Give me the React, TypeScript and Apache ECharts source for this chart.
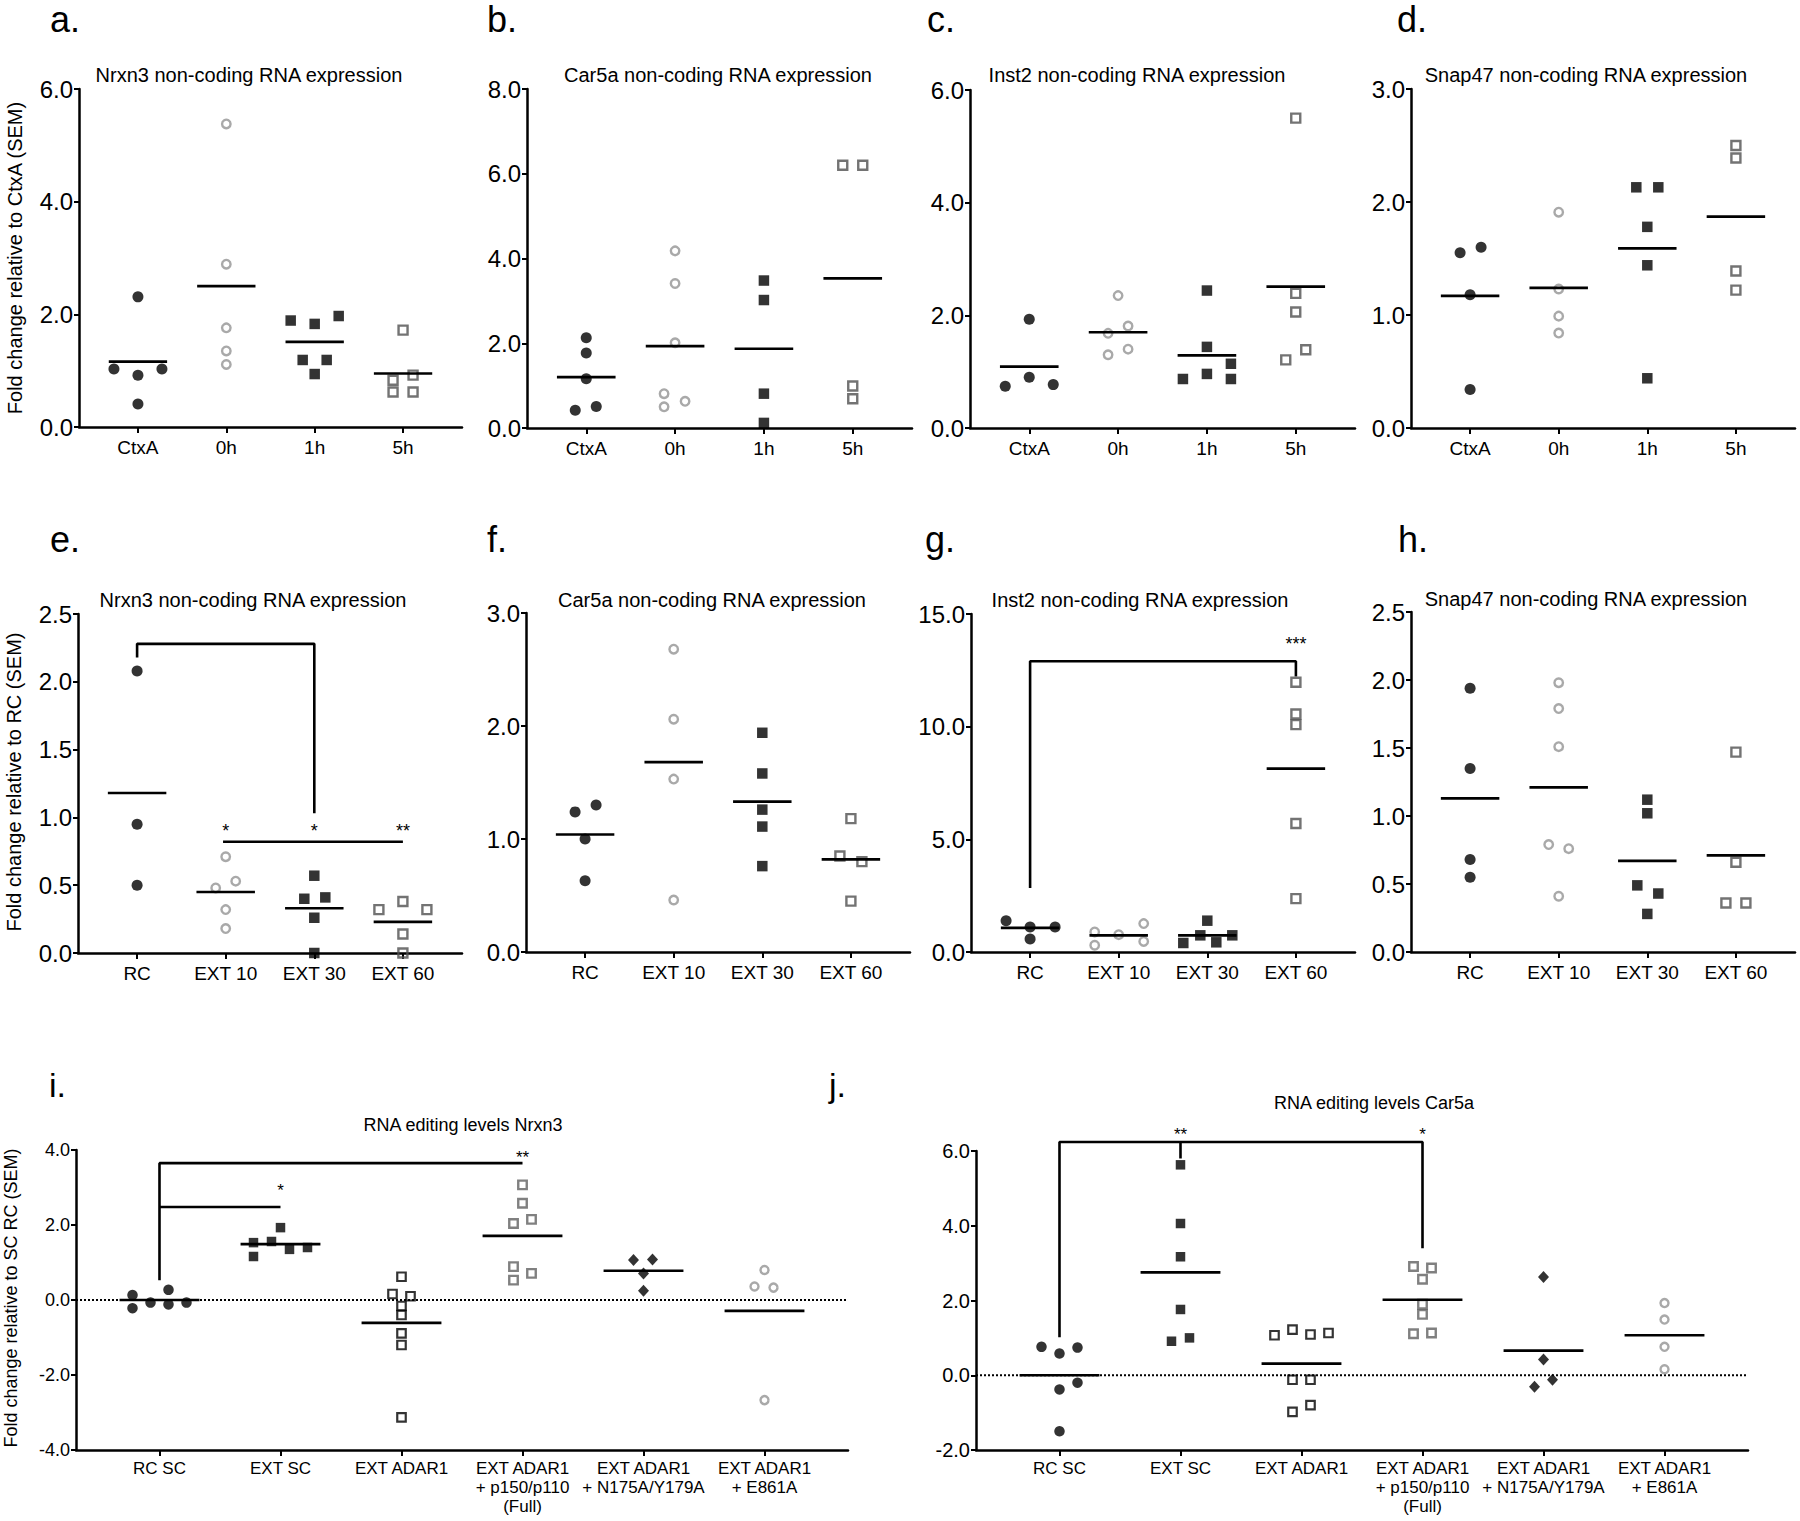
import React, { useEffect, useRef } from "react";
import * as echarts from "echarts";

const FONT = "'Liberation Sans', Arial, Helvetica, sans-serif";

// ---------- categories ----------
const catsTime = ["CtxA", "0h", "1h", "5h"];
const catsExt = ["RC", "EXT 10", "EXT 30", "EXT 60"];
const catsEdit = [
  "RC SC",
  "EXT SC",
  "EXT ADAR1",
  "EXT ADAR1\n+ p150/p110\n(Full)",
  "EXT ADAR1\n+ N175A/Y179A",
  "EXT ADAR1\n+ E861A",
];

// ---------- panel a: Nrxn3 (CtxA) ----------
const aValues = [
  [2.31, 1.03, 0.92, 1.03, 0.41],
  [5.38, 2.89, 1.76, 1.35, 1.11],
  [1.89, 1.83, 1.97, 1.19, 1.19, 0.94],
  [1.72, 0.92, 0.83, 0.62, 0.62],
];
const aMeans = [1.16, 2.5, 1.51, 0.95];
const aSpread = [[0, -24, 0, 24, 0], [0, 0, 0, 0, 0], [-24, 0, 24, -12, 12, 0], [0, 10, -10, -10, 10]];

// ---------- panel b: Car5a (CtxA) ----------
const bValues = [
  [2.13, 1.77, 1.16, 0.42, 0.51],
  [4.18, 3.41, 2.01, 0.81, 0.5, 0.63],
  [3.48, 3.02, 0.81, 0.12],
  [6.2, 6.2, 0.99, 0.69],
];
const bMeans = [1.2, 1.93, 1.87, 3.53];
const bSpread = [[0, 0, 0, -11, 10], [0, 0, 0, -11, -11, 10], [0, 0, 0, 0], [-10, 10, 0, 0]];

// ---------- panel c: Inst2 (CtxA) ----------
const cValues = [
  [1.93, 0.74, 0.9, 0.77],
  [2.35, 1.68, 1.81, 1.4, 1.3],
  [2.44, 1.44, 1.14, 0.87, 0.96, 0.87],
  [5.5, 2.39, 2.06, 1.39, 1.21],
];
const cMeans = [1.09, 1.7, 1.29, 2.51];
const cSpread = [[0, -24, 0, 24], [0, -10, 10, 10, -10], [0, 0, 24, -24, 0, 24], [0, 0, 0, 10, -10]];

// ---------- panel d: Snap47 (CtxA) ----------
const dValues = [
  [1.55, 1.6, 1.18, 0.34],
  [1.91, 1.23, 0.99, 0.84],
  [2.13, 2.13, 1.78, 1.44, 0.44],
  [2.5, 2.39, 1.39, 1.22],
];
const dMeans = [1.17, 1.24, 1.59, 1.87];
const dSpread = [[-10, 11, 0, 0], [0, 0, 0, 0], [-11, 11, 0, 0, 0], [0, 0, 0, 0]];

// ---------- panel e: Nrxn3 (RC) ----------
const eValues = [
  [2.08, 0.95, 0.5],
  [0.71, 0.48, 0.53, 0.32, 0.18],
  [0.57, 0.4, 0.41, 0.26, 0.0],
  [0.32, 0.38, 0.32, 0.14, 0.0],
];
const eMeans = [1.18, 0.45, 0.33, 0.23];
const eSpread = [[0, 0, 0], [0, -10, 10, 0, 0], [0, -10, 11, 0, 0], [-24, 0, 24, 0, 0]];
const eBrackets = [
  [[0, 2.18], [0, 2.28], [2, 2.28], [2, 1.03]],
  [[0.97, 0.82], [3, 0.82]],
];
const eStars: [number, number, string][] = [[1, 0.93, "*"], [2, 0.93, "*"], [3, 0.93, "**"]];

// ---------- panel f: Car5a (RC) ----------
const fValues = [
  [1.24, 1.3, 1.0, 0.63],
  [2.68, 2.06, 1.53, 0.46],
  [1.94, 1.58, 1.26, 1.11, 0.76],
  [1.18, 0.85, 0.8, 0.45],
];
const fMeans = [1.04, 1.68, 1.33, 0.82];
const fSpread = [[-10, 11, 0, 0], [0, 0, 0, 0], [0, 0, 0, 0, 0], [0, -11, 11, 0]];

// ---------- panel g: Inst2 (RC) ----------
const gValues = [
  [1.39, 1.11, 1.11, 0.58],
  [0.89, 0.77, 1.26, 0.3, 0.47],
  [1.39, 0.74, 0.74, 0.4, 0.43],
  [11.97, 10.56, 10.09, 5.7, 2.37],
];
const gMeans = [1.07, 0.74, 0.74, 8.14];
const gSpread = [[-24, 0, 25, 0], [-24, 0, 25, -24, 25], [0, -7, 25, -24, 9], [0, 0, 0, 0, 0]];
const gBrackets = [[[0, 2.84], [0, 12.9], [3, 12.9], [3, 12.23]]];
const gStars: [number, number, string][] = [[3, 13.83, "***"]];

// ---------- panel h: Snap47 (RC) ----------
const hValues = [
  [1.94, 1.35, 0.68, 0.55],
  [1.98, 1.79, 1.51, 0.79, 0.76, 0.41],
  [1.12, 1.02, 0.49, 0.43, 0.28],
  [1.47, 0.66, 0.36, 0.36],
];
const hMeans = [1.13, 1.21, 0.67, 0.71];
const hSpread = [[0, 0, 0, 0], [0, 0, 0, -10, 10, 0], [0, 0, -10, 11, 0], [0, 0, -10, 10]];

// ---------- panel i: RNA editing Nrxn3 ----------
const iValues = [
  [0.13, -0.22, -0.07, 0.27, -0.12, -0.07],
  [1.53, 1.16, 1.56, 1.93, 1.35, 1.4],
  [0.62, 0.16, 0.1, -0.16, -0.4, -0.89, -1.2, -3.13],
  [3.07, 2.58, 2.04, 2.15, 0.89, 0.71, 0.53],
  [1.07, 1.08, 0.71, 0.25],
  [0.8, 0.36, 0.33, -2.67],
];
const iMeans = [0.0, 1.49, -0.61, 1.71, 0.78, -0.29];
const iSpread = [
  [-27, -27, -9, 9, 9, 27],
  [-27, -27, -9, 0, 9, 27],
  [0, -9, 9, 0, 0, 0, 0, 0],
  [0, 0, -9, 9, -9, 9, -9],
  [-10, 9, 0, 0],
  [0, -10, 9, 0],
];
const iBrackets = [
  [[0, 0.53], [0, 3.65], [3, 3.65]],
  [[0, 2.48], [1, 2.48]],
];
const iStars: [number, number, string][] = [[1, 3.01, "*"], [3, 3.91, "**"]];

// ---------- panel j: RNA editing Car5a ----------
const jValues = [
  [0.76, 0.58, 0.74, -0.2, -0.38, -1.5],
  [5.63, 4.06, 3.17, 1.76, 0.91, 1.0],
  [1.07, 1.22, 1.09, 1.13, -0.12, -0.12, -0.8, -0.98],
  [2.91, 2.87, 2.57, 1.9, 1.63, 1.11, 1.13],
  [2.63, 0.42, -0.12, -0.31],
  [1.93, 1.49, 0.76, 0.16],
];
const jMeans = [0.0, 2.75, 0.31, 2.02, 0.66, 1.07];
const jSpread = [
  [-18, 0, 18, 18, 0, 0],
  [0, 0, 0, 0, -9, 9],
  [-27, -9, 9, 27, -9, 9, 9, -9],
  [-9, 9, 0, 0, 0, -9, 9],
  [0, 0, 9, -9],
  [0, 0, 0, 0],
];
const jBrackets = [
  [[0, 1.02], [0, 6.24], [3, 6.24], [3, 3.4]],
  [[1, 6.24], [1, 5.8]],
];
const jStars: [number, number, string][] = [[1, 6.55, "**"], [3, 6.55, "*"]];

// ---------- marker styles ----------
const CLEAR = "rgba(0,0,0,0)";
const topMarkers = [
  { symbol: "circle", symbolSize: 11, itemStyle: { color: "#000" } },
  { symbol: "circle", symbolSize: 8.5, itemStyle: { color: CLEAR, borderColor: "#939393", borderWidth: 2.4 } },
  { symbol: "rect", symbolSize: 10.5, itemStyle: { color: "#000" } },
  { symbol: "rect", symbolSize: 9, itemStyle: { color: CLEAR, borderColor: "#505050", borderWidth: 2.4 } },
];
const editMarkers = [
  { symbol: "circle", symbolSize: 10.5, itemStyle: { color: "#000" } },
  { symbol: "rect", symbolSize: 9.5, itemStyle: { color: "#000" } },
  { symbol: "rect", symbolSize: 8.5, itemStyle: { color: CLEAR, borderColor: "#000", borderWidth: 2.2 } },
  { symbol: "rect", symbolSize: 8.5, itemStyle: { color: CLEAR, borderColor: "#606060", borderWidth: 2.4 } },
  { symbol: "diamond", symbolSize: [11, 12], itemStyle: { color: "#000" } },
  { symbol: "circle", symbolSize: 8, itemStyle: { color: CLEAR, borderColor: "#939393", borderWidth: 2.4 } },
];

const topStyle = { yTick: 24, xLabel: 19, xMargin: 11, yMargin: 6, title: 20, letter: 36, yName: 20, star: 18, line: 19 };
const editStyleI = { yTick: 18, xLabel: 17, xMargin: 9, yMargin: 6, title: 18, letter: 34, yName: 18, star: 17, line: 19 };
const editStyleJ = { ...editStyleI, yTick: 20 };

type Panel = {
  letter: string; letterX: number; letterBase: number;
  title: string; titleX: number; titleY: number;
  cats: string[]; values: number[][]; spread: number[][]; means: number[];
  yMin: number; yMax: number; yStep: number;
  grid: { left: number; top: number; width: number; height: number };
  xMin: number; xMax: number;
  markers: any[]; st: any;
  brackets?: number[][][]; stars?: [number, number, string][]; zeroLine?: boolean;
  yName?: string; yNameX?: number; yNameY?: number;
};

const panels: Panel[] = [
  { letter: "a.", letterX: 50, letterBase: 32, title: "Nrxn3 non-coding RNA expression", titleX: 249, titleY: 75,
    cats: catsTime, values: aValues, spread: aSpread, means: aMeans, yMin: 0, yMax: 6, yStep: 2,
    grid: { left: 79, top: 89, width: 383, height: 338 }, xMin: -0.667, xMax: 3.667, markers: topMarkers, st: topStyle,
    yName: "Fold change relative to CtxA (SEM)", yNameX: 15, yNameY: 258 },
  { letter: "b.", letterX: 487, letterBase: 32, title: "Car5a non-coding RNA expression", titleX: 718, titleY: 75,
    cats: catsTime, values: bValues, spread: bSpread, means: bMeans, yMin: 0, yMax: 8, yStep: 2,
    grid: { left: 527, top: 89, width: 385, height: 339 }, xMin: -0.667, xMax: 3.667, markers: topMarkers, st: topStyle },
  { letter: "c.", letterX: 927, letterBase: 32, title: "Inst2 non-coding RNA expression", titleX: 1137, titleY: 75,
    cats: catsTime, values: cValues, spread: cSpread, means: cMeans, yMin: 0, yMax: 6, yStep: 2,
    grid: { left: 970, top: 90, width: 385, height: 338 }, xMin: -0.667, xMax: 3.667, markers: topMarkers, st: topStyle },
  { letter: "d.", letterX: 1397, letterBase: 32, title: "Snap47 non-coding RNA expression", titleX: 1586, titleY: 75,
    cats: catsTime, values: dValues, spread: dSpread, means: dMeans, yMin: 0, yMax: 3, yStep: 1,
    grid: { left: 1411, top: 89, width: 384, height: 339 }, xMin: -0.667, xMax: 3.667, markers: topMarkers, st: topStyle },
  { letter: "e.", letterX: 50, letterBase: 552, title: "Nrxn3 non-coding RNA expression", titleX: 253, titleY: 600,
    cats: catsExt, values: eValues, spread: eSpread, means: eMeans, yMin: 0, yMax: 2.5, yStep: 0.5,
    grid: { left: 78, top: 614, width: 384, height: 339 }, xMin: -0.667, xMax: 3.667, markers: topMarkers, st: topStyle,
    brackets: eBrackets, stars: eStars, yName: "Fold change relative to RC (SEM)", yNameX: 14, yNameY: 782 },
  { letter: "f.", letterX: 487, letterBase: 552, title: "Car5a non-coding RNA expression", titleX: 712, titleY: 600,
    cats: catsExt, values: fValues, spread: fSpread, means: fMeans, yMin: 0, yMax: 3, yStep: 1,
    grid: { left: 526, top: 613, width: 384, height: 339 }, xMin: -0.667, xMax: 3.667, markers: topMarkers, st: topStyle },
  { letter: "g.", letterX: 925, letterBase: 552, title: "Inst2 non-coding RNA expression", titleX: 1140, titleY: 600,
    cats: catsExt, values: gValues, spread: gSpread, means: gMeans, yMin: 0, yMax: 15, yStep: 5,
    grid: { left: 971, top: 614, width: 384, height: 338 }, xMin: -0.667, xMax: 3.667, markers: topMarkers, st: topStyle,
    brackets: gBrackets, stars: gStars },
  { letter: "h.", letterX: 1398, letterBase: 552, title: "Snap47 non-coding RNA expression", titleX: 1586, titleY: 599,
    cats: catsExt, values: hValues, spread: hSpread, means: hMeans, yMin: 0, yMax: 2.5, yStep: 0.5,
    grid: { left: 1411, top: 612, width: 384, height: 340 }, xMin: -0.667, xMax: 3.667, markers: topMarkers, st: topStyle },
  { letter: "i.", letterX: 49, letterBase: 1097, title: "RNA editing levels Nrxn3", titleX: 463, titleY: 1125,
    cats: catsEdit, values: iValues, spread: iSpread, means: iMeans, yMin: -4, yMax: 4, yStep: 2,
    grid: { left: 76, top: 1150, width: 772, height: 300 }, xMin: -0.69, xMax: 5.69, markers: editMarkers, st: editStyleI,
    brackets: iBrackets, stars: iStars, zeroLine: true, yName: "Fold change relative to SC RC (SEM)", yNameX: 11, yNameY: 1298 },
  { letter: "j.", letterX: 829, letterBase: 1097, title: "RNA editing levels Car5a", titleX: 1374, titleY: 1103,
    cats: catsEdit, values: jValues, spread: jSpread, means: jMeans, yMin: -2, yMax: 6, yStep: 2,
    grid: { left: 976, top: 1151, width: 772, height: 299 }, xMin: -0.69, xMax: 5.69, markers: editMarkers, st: editStyleJ,
    brackets: jBrackets, stars: jStars, zeroLine: true },
];

function buildOption() {
  const grid: any[] = [];
  const xAxis: any[] = [];
  const yAxis: any[] = [];
  const series: any[] = [];
  const graphic: any[] = [];

  panels.forEach((p, k) => {
    const st = p.st;
    grid.push({ ...p.grid, containLabel: false });
    const idx = p.cats.map((_, i) => i);
    xAxis.push({
      gridIndex: k, type: "value", min: p.xMin, max: p.xMax,
      axisLine: { show: true, onZero: false, lineStyle: { color: "#000", width: 2.5 } },
      axisTick: { show: true, customValues: idx, length: 6, lineStyle: { color: "#000", width: 2 } },
      axisLabel: {
        show: true, customValues: idx, formatter: (v: number) => p.cats[Math.round(v)] ?? "",
        color: "#000", fontSize: st.xLabel, fontFamily: FONT, margin: st.xMargin, lineHeight: st.line,
      },
      splitLine: { show: false },
    });
    yAxis.push({
      gridIndex: k, type: "value", min: p.yMin, max: p.yMax, interval: p.yStep,
      axisLine: { show: true, onZero: false, lineStyle: { color: "#000", width: 2.5 } },
      axisTick: { show: true, length: 5, lineStyle: { color: "#000", width: 2 } },
      axisLabel: { formatter: (v: number) => v.toFixed(1), color: "#000", fontSize: st.yTick, fontFamily: FONT, margin: st.yMargin },
      splitLine: { show: false },
    });

    const pxPerUnit = p.grid.width / (p.xMax - p.xMin);

    if (p.zeroLine) {
      series.push({
        type: "line", xAxisIndex: k, yAxisIndex: k, data: [[p.xMin, 0], [p.xMax, 0]],
        symbol: "none", silent: true, z: 1, clip: false,
        lineStyle: { color: "#000", width: 2, type: [2, 2] },
      });
    }

    p.values.forEach((vals, g) => {
      const m = p.markers[g];
      series.push({
        type: "scatter", xAxisIndex: k, yAxisIndex: k, clip: false, silent: true, z: 3,
        symbol: m.symbol, symbolSize: m.symbolSize, itemStyle: m.itemStyle,
        data: vals.map((v, i) => [g + (p.spread[g][i] || 0) / pxPerUnit, v]),
      });
    });

    series.push({
      type: "custom", xAxisIndex: k, yAxisIndex: k, silent: true, z: 4,
      data: p.means.map((m, g) => [g, m]),
      renderItem: (_params: any, api: any) => {
        const x = api.value(0), y = api.value(1);
        const p1 = api.coord([x - 0.33, y]);
        const p2 = api.coord([x + 0.33, y]);
        return { type: "line", shape: { x1: p1[0], y1: p1[1], x2: p2[0], y2: p2[1] }, style: { stroke: "#000", lineWidth: 2.7 } };
      },
    });

    (p.brackets || []).forEach((b) => {
      series.push({
        type: "line", xAxisIndex: k, yAxisIndex: k, data: b, symbol: "none", silent: true, z: 2, clip: false,
        lineStyle: { color: "#000", width: 2.6 },
      });
    });

    if (p.stars) {
      const stars = p.stars;
      series.push({
        type: "custom", xAxisIndex: k, yAxisIndex: k, silent: true, z: 5, clip: false,
        data: stars.map((s) => [s[0], s[1]]),
        renderItem: (params: any, api: any) => {
          const s = stars[params.dataIndex];
          const pt = api.coord([s[0], s[1]]);
          return {
            type: "text", x: pt[0], y: pt[1] + 0.22 * st.star,
            style: { text: s[2], fontSize: st.star, fontFamily: FONT, fill: "#000", align: "center", verticalAlign: "middle" },
          };
        },
      });
    }

    graphic.push({
      type: "text", x: p.letterX, y: p.letterBase - 0.347 * st.letter,
      style: { text: p.letter, fontSize: st.letter, fontFamily: FONT, fill: "#000", align: "left", verticalAlign: "middle" },
    });
    graphic.push({
      type: "text", x: p.titleX, y: p.titleY,
      style: { text: p.title, fontSize: st.title, fontFamily: FONT, fill: "#000", align: "center", verticalAlign: "middle" },
    });
    if (p.yName) {
      graphic.push({
        type: "text", x: p.yNameX, y: p.yNameY, rotation: Math.PI / 2,
        style: { text: p.yName, fontSize: st.yName, fontFamily: FONT, fill: "#000", align: "center", verticalAlign: "middle" },
      });
    }
  });

  return {
    animation: false,
    backgroundColor: "#fff",
    textStyle: { fontFamily: FONT },
    grid, xAxis, yAxis, series, graphic,
  };
}

export default function App() {
  const ref = useRef<HTMLDivElement>(null);
  useEffect(() => {
    document.body.style.margin = "0";
    if (!ref.current) return;
    const chart = echarts.init(ref.current, undefined, { renderer: "svg" });
    chart.setOption(buildOption() as any);
    return () => chart.dispose();
  }, []);
  return <div ref={ref} style={{ width: 1800, height: 1521, background: "#fff" }} />;
}
